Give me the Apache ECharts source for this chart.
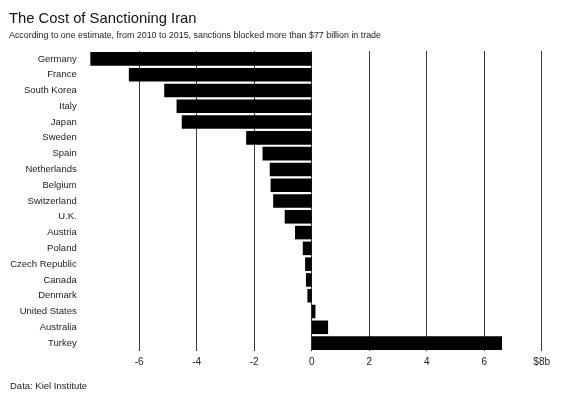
<!DOCTYPE html>
<html><head><meta charset="utf-8">
<script src="https://cdn.jsdelivr.net/npm/echarts@6/dist/echarts.min.js"></script>
<style>html,body{margin:0;padding:0;background:#fff}#c{width:570px;height:398px}</style>
</head><body><div id="c"></div>
<script>
var countries = ["Germany","France","South Korea","Italy","Japan","Sweden","Spain","Netherlands","Belgium","Switzerland","U.K.","Austria","Poland","Czech Republic","Canada","Denmark","United States","Australia","Turkey"];
var values = [-7.7,-6.36,-5.13,-4.70,-4.52,-2.28,-1.71,-1.46,-1.43,-1.34,-0.94,-0.58,-0.31,-0.23,-0.20,-0.15,0.13,0.57,6.62];
var xTicks = {min:-8, max:8, step:2};
var title = "The Cost of Sanctioning Iran";
var subtitle = "According to one estimate, from 2010 to 2015, sanctions blocked more than $77 billion in trade";
var source = "Data: Kiel Institute";

var font = "Liberation Sans, Arial, sans-serif";
var chart = echarts.init(document.getElementById('c'));
var lineColors = [];
for (var v = xTicks.min; v <= xTicks.max; v += xTicks.step) lineColors.push(v === xTicks.min ? 'rgba(0,0,0,0)' : '#3a3a3a');
chart.setOption({
  backgroundColor:'#fff',
  animation:false,
  title:[
    {text:title, left:4, top:6, textStyle:{fontFamily:font, fontSize:14.8, fontWeight:'normal', color:'#111'}},
    {text:subtitle, left:4, top:26, textStyle:{fontFamily:font, fontSize:8.9, fontWeight:'normal', color:'#222'}},
    {text:source, left:5, top:376, textStyle:{fontFamily:font, fontSize:9.5, fontWeight:'normal', color:'#222'}}
  ],
  grid:{left:81.7, right:28.3, top:51, bottom:47, containLabel:false},
  xAxis:{type:'value', min:xTicks.min, max:xTicks.max, interval:xTicks.step,
    axisLine:{show:false}, axisTick:{show:false},
    splitLine:{show:true, lineStyle:{color:lineColors, width:1}},
    axisLabel:{fontFamily:font, fontSize:10, color:'#222', margin:6,
      formatter:function(v){ if(v===xTicks.min) return ''; if(v===xTicks.max) return '$'+v+'b'; return String(v);} }
  },
  yAxis:{type:'category', data:countries, inverse:true,
    axisLine:{show:false}, axisTick:{show:false},
    axisLabel:{fontFamily:font, fontSize:9.5, color:'#222', margin:5}
  },
  series:[{type:'bar', data:values, barCategoryGap:'14%', itemStyle:{color:'#000'}}]
});
</script></body></html>
